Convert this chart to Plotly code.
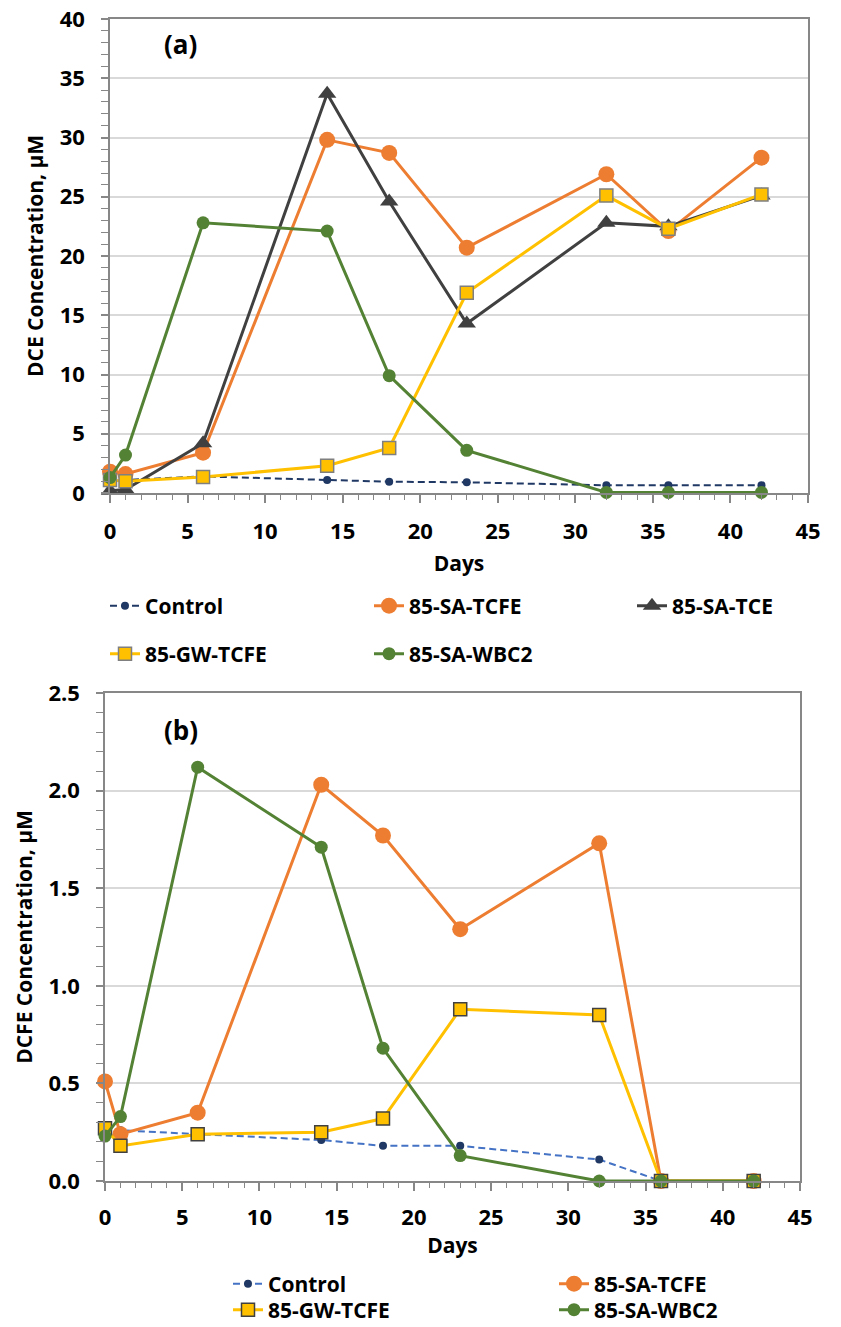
import plotly.graph_objects as go

# Sampling days
days = [0, 1, 6, 14, 18, 23, 32, 36, 42]

# (a) DCE concentration, µM
dce_control = [1.2, 1.1, 1.4, 1.1, 0.95, 0.9, 0.65, 0.65, 0.65]
dce_sa_tcfe = [1.8, 1.6, 3.4, 29.8, 28.7, 20.7, 26.9, 22.1, 28.3]
dce_sa_tce = [0.2, 0.3, 4.2, 33.7, 24.6, 14.3, 22.8, 22.5, 25.1]
dce_gw_tcfe = [1.1, 1.0, 1.35, 2.3, 3.8, 16.9, 25.1, 22.3, 25.2]
dce_sa_wbc2 = [1.3, 3.2, 22.8, 22.1, 9.9, 3.6, 0.05, 0.05, 0.05]

# (b) DCFE concentration, µM
dcfe_control = [0.27, 0.26, 0.24, 0.21, 0.18, 0.18, 0.11, 0.0, 0.0]
dcfe_sa_tcfe = [0.51, 0.24, 0.35, 2.03, 1.77, 1.29, 1.73, 0.0, 0.0]
dcfe_gw_tcfe = [0.27, 0.18, 0.24, 0.25, 0.32, 0.88, 0.85, 0.0, 0.0]
dcfe_sa_wbc2 = [0.23, 0.33, 2.12, 1.71, 0.68, 0.13, 0.0, 0.0, 0.0]

FONT = "Open Sans"
NAVY = "#1F3864"
ORANGE = "#ED7D31"
DARK = "#404040"
YELLOW = "#FFC000"
GREEN = "#548235"
AXIS = "#878787"

W, H = 841, 1327


def px_x(p):
    return p / W


def px_y(p):
    return 1 - p / H


fig = go.Figure()
legends = {}


def add(y, name, xa, ya, leg_pos, line, marker):
    # every series gets its own legend box, placed where its entry sits
    key = "legend" if not legends else "legend%d" % (len(legends) + 1)
    text_x, center_y = leg_pos
    legends[key] = dict(
        x=px_x(text_x - 40), y=px_y(center_y), xanchor="left", yanchor="middle",
        font=dict(family=FONT, size=21, color="black", weight="bold"),
        bgcolor="rgba(0,0,0,0)", borderwidth=0,
    )
    fig.add_trace(go.Scatter(
        x=days, y=y, name=name, mode="lines+markers",
        xaxis=xa, yaxis=ya, legend=key, line=line, marker=marker,
        cliponaxis=False,
    ))


DASH = "7px,4px"

# Panel (a)
add(dce_control, "Control", "x", "y", (145, 606),
    dict(color=NAVY, width=2, dash=DASH), dict(symbol="circle", size=8, color=NAVY))
add(dce_sa_tcfe, "85-SA-TCFE", "x", "y", (409, 606),
    dict(color=ORANGE, width=3), dict(symbol="circle", size=16, color=ORANGE))
add(dce_sa_tce, "85-SA-TCE", "x", "y", (672, 606),
    dict(color=DARK, width=3), dict(symbol="triangle-up", size=16, color=DARK))
add(dce_gw_tcfe, "85-GW-TCFE", "x", "y", (145, 654),
    dict(color=YELLOW, width=3),
    dict(symbol="square", size=13, color=YELLOW, line=dict(color="#7F7F7F", width=1.5)))
add(dce_sa_wbc2, "85-SA-WBC2", "x", "y", (409, 654),
    dict(color=GREEN, width=3), dict(symbol="circle", size=13, color=GREEN))

# Panel (b)
add(dcfe_control, "Control", "x2", "y2", (268, 1284),
    dict(color="#4472C4", width=2, dash=DASH), dict(symbol="circle", size=8, color=NAVY))
add(dcfe_sa_tcfe, "85-SA-TCFE", "x2", "y2", (594, 1284),
    dict(color=ORANGE, width=3), dict(symbol="circle", size=16, color=ORANGE))
add(dcfe_gw_tcfe, "85-GW-TCFE", "x2", "y2", (268, 1310),
    dict(color=YELLOW, width=3),
    dict(symbol="square", size=13, color=YELLOW, line=dict(color=DARK, width=1.5)))
add(dcfe_sa_wbc2, "85-SA-WBC2", "x2", "y2", (594, 1310),
    dict(color=GREEN, width=3), dict(symbol="circle", size=13, color=GREEN))

tickfont = dict(family=FONT, size=22, color="black", weight="bold")
titlefont = dict(family=FONT, size=21, color="black", weight="bold")


def xaxis(domain, anchor, lab_off, title_off):
    return dict(
        domain=domain, anchor=anchor, range=[0, 45], dtick=5, tick0=0,
        automargin=False,
        showgrid=False, zeroline=False, showline=True, linecolor=AXIS,
        linewidth=1.5, mirror=True, ticks="outside", ticklen=8, tickwidth=1.5,
        tickcolor=AXIS, ticklabelstandoff=lab_off,
        minor=dict(dtick=1, ticks="outside", ticklen=5, tickwidth=1.2,
                   tickcolor=AXIS, showgrid=False),
        tickfont=tickfont,
        title=dict(text="Days", font=titlefont, standoff=title_off),
    )


def yaxis(domain, anchor, rng, dtick, mdtick, title, fmt):
    return dict(
        domain=domain, anchor=anchor, range=rng, dtick=dtick, tick0=0,
        automargin=False,
        showgrid=True, gridcolor="#D9D9D9", gridwidth=1.5, zeroline=False,
        showline=True, linecolor=AXIS, linewidth=1.5, mirror=True,
        ticks="outside", ticklen=7, tickwidth=1.5, tickcolor=AXIS,
        ticklabelstandoff=12,
        minor=dict(dtick=mdtick, ticks="outside", ticklen=7, tickwidth=1.2,
                   tickcolor=AXIS, showgrid=False),
        tickformat=fmt, tickfont=tickfont,
        title=dict(text=title, font=titlefont, standoff=10),
    )


fig.update_layout(
    width=W, height=H, margin=dict(l=0, r=0, t=0, b=0, autoexpand=False),
    paper_bgcolor="white", plot_bgcolor="white", showlegend=True,
    xaxis=xaxis([px_x(110), px_x(808)], "y", 10, 12),
    yaxis=yaxis([px_y(493), px_y(19)], "x", [0, 40], 5, 1,
                "DCE Concentration, µM", "d"),
    xaxis2=xaxis([px_x(105), px_x(800)], "y2", 8, 8),
    yaxis2=yaxis([px_y(1181), px_y(693)], "x2", [0, 2.5], 0.5, 0.1,
                 "DCFE Concentration, µM", ".1f"),
    annotations=[
        dict(text="(a)", x=px_x(180), y=px_y(44), xref="paper", yref="paper",
             xanchor="center", yanchor="middle", showarrow=False,
             font=dict(family=FONT, size=26, color="black", weight="bold")),
        dict(text="(b)", x=px_x(181), y=px_y(730), xref="paper", yref="paper",
             xanchor="center", yanchor="middle", showarrow=False,
             font=dict(family=FONT, size=26, color="black", weight="bold")),
    ],
    **legends,
)

fig.write_html("out.html")
